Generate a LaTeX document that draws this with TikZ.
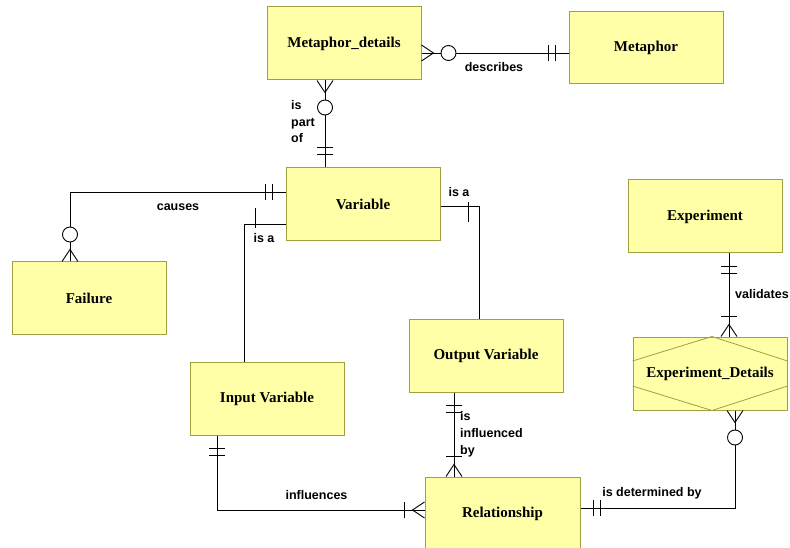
\documentclass[tikz,border=0pt]{standalone}
\usepackage{fontspec}
\setmainfont{Liberation Serif}
\setsansfont{Liberation Sans}
\usetikzlibrary{calc}
\definecolor{entfill}{RGB}{255,255,168}
\definecolor{entline}{RGB}{160,160,64}
\tikzset{
  entity/.style={rectangle, draw=entline, fill=entfill, line width=1pt,
    minimum width=154pt, minimum height=73pt, inner sep=0pt,
    font=\rmfamily\bfseries\fontsize{15}{18}\selectfont},
  lbl/.style={inner sep=0pt, font=\sffamily\bfseries\fontsize{12.5}{16.5}\selectfont},
  conn/.style={draw=black, line width=0.9pt},
  % cardinality marks, drawn with +x pointing away from the entity edge
  many/.pic={\draw[conn] (0,-8) -- (12,0) -- (0,8);},
  optional/.pic={\draw[conn, fill=white] (27,0) circle[radius=7.5pt];},
  onebar/.pic={\draw[conn] (20,-8) -- (20,8);},
  twobar/.pic={\draw[conn] (13,-8) -- (13,8) (20,-8) -- (20,8);},
}
\begin{document}
\begin{tikzpicture}[x=1pt, y=-1pt]
\clip (0,0) rectangle (790,548);
\fill[white] (0,0) rectangle (790,548);

% entities
\node[entity] (md)   at (344,43.5)  {Metaphor\_details};
\node[entity, minimum height=72pt] (met) at (646,48) {Metaphor};
\node[entity] (var)  at (363,204.5) {Variable};
\node[entity, minimum height=72pt] (fail) at (89,298) {Failure};
\node[entity] (inp)  at (267,398.5) {Input Variable};
\node[entity] (out)  at (486,355.5) {Output Variable};
\node[entity] (exp)  at (705,216.5) {Experiment};
\node[entity] (expd) at (710,373.5) {Experiment\_Details};
\node[entity, minimum width=155pt] (rel) at (502.5,513.5) {Relationship};

% associative-entity hexagon inside Experiment_Details
\draw[entline, line width=0.8pt]
  ([yshift=12.5pt]expd.west) -- ([xshift=2pt]expd.north) -- ([yshift=12.5pt]expd.east)
  ([yshift=-12.5pt]expd.west) -- ([xshift=2pt]expd.south) -- ([yshift=-12.5pt]expd.east);

% Metaphor_details -- describes -- Metaphor
\coordinate (d1) at ([yshift=-9.5pt]md.east);
\coordinate (d2) at (met.west |- d1);
\draw[conn] (d1) -- (d2);
\pic at (d1) {many}; \pic at (d1) {optional};
\pic[rotate=180] at (d2) {twobar};
\node[lbl] (ldesc) at (494,67) {describes};

% Metaphor_details -- is part of -- Variable
\coordinate (p1) at ([xshift=-19pt]md.south);
\coordinate (p2) at (var.north -| p1);
\draw[conn] (p1) -- (p2);
\pic[rotate=-90] at (p1) {many}; \pic[rotate=-90] at (p1) {optional};
\pic[rotate=90] at (p2) {twobar};
\node[lbl, anchor=west, align=left] (lpart) at (291,122) {is\\part\\of};

% Variable -- causes -- Failure
\coordinate (c1) at ([yshift=12.5pt]var.west);
\coordinate (c2) at ([xshift=-19pt]fail.north);
\draw[conn] (c1) -| (c2);
\pic[rotate=180] at (c1) {twobar};
\pic[rotate=90] at (c2) {many}; \pic[rotate=90] at (c2) {optional};
\node[lbl] (lcause) at (178,207) {causes};

% Variable -- is a -- Input Variable
\coordinate (ia1) at ([yshift=-19.5pt]var.west);
\coordinate (ia1e) at ([xshift=-23pt]inp.north);
\draw[conn] (ia1) -| (ia1e);
\draw[conn] ([xshift=-30pt,yshift=16pt]ia1) -- ([xshift=-30pt,yshift=-4pt]ia1);
\node[lbl] (lisa1) at (264,238) {is a};

% Variable -- is a -- Output Variable
\coordinate (ia2) at ([yshift=-1.5pt]var.east);
\coordinate (ia2e) at ([xshift=-7pt]out.north);
\draw[conn] (ia2) -| (ia2e);
\draw[conn] ([xshift=28pt,yshift=4pt]ia2) -- ([xshift=28pt,yshift=-16pt]ia2);
\node[lbl] (lisa2) at (459,192) {is a};

% Experiment -- validates -- Experiment_Details
\coordinate (v1) at ([xshift=24pt]exp.south);
\coordinate (v2) at (expd.north -| v1);
\draw[conn] (v1) -- (v2);
\pic[rotate=-90] at (v1) {twobar};
\pic[rotate=90] at (v2) {many}; \pic[rotate=90] at (v2) {onebar};
\node[lbl, anchor=west] (lval) at (735,294) {validates};

% Experiment_Details -- is determined by -- Relationship
\coordinate (e1) at ([xshift=25pt]expd.south);
\coordinate (e2) at ([yshift=5.5pt]rel.east);
\draw[conn] (e1) |- (e2);
\pic[rotate=-90] at (e1) {many}; \pic[rotate=-90] at (e1) {optional};
\pic at (e2) {twobar};
\node[lbl] (ldet) at (652,493) {is determined by};

% Output Variable -- is influenced by -- Relationship
\coordinate (o1) at ([xshift=-32pt]out.south);
\coordinate (o2) at (rel.north -| o1);
\draw[conn] (o1) -- (o2);
\pic[rotate=-90] at (o1) {twobar};
\pic[rotate=90] at (o2) {many}; \pic[rotate=90] at (o2) {onebar};
\node[lbl, anchor=west, align=left, font=\sffamily\bfseries\fontsize{12.5}{17}\selectfont] (linf) at (460,434) {is\\influenced\\by};

% Input Variable -- influences -- Relationship
\coordinate (i1) at ([xshift=-50pt]inp.south);
\coordinate (i2) at ([yshift=3.5pt]rel.west);
\draw[conn] (i1) |- (i2);
\pic[rotate=-90] at (i1) {twobar};
\pic[rotate=180] at (i2) {many}; \pic[rotate=180] at (i2) {onebar};
\node[lbl] (linfl) at (316.5,495) {influences};
\end{tikzpicture}
\end{document}
